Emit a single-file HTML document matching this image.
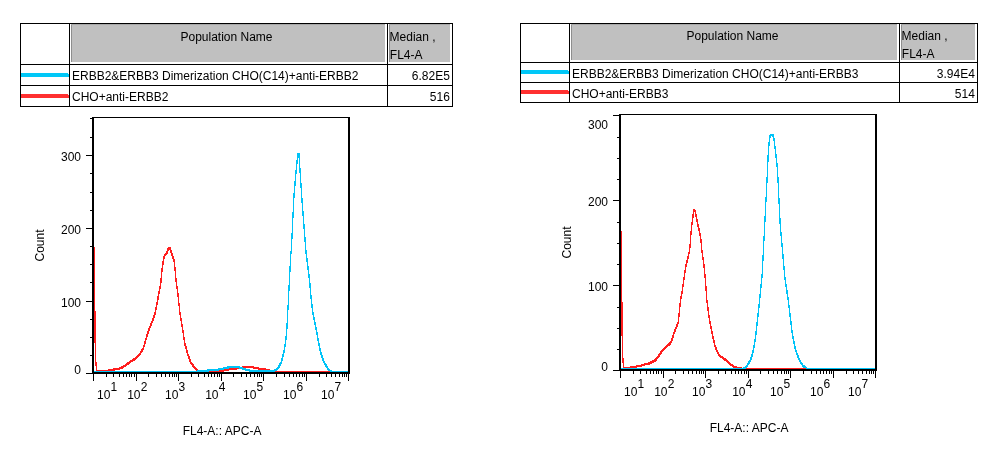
<!DOCTYPE html>
<html><head><meta charset="utf-8"><title>FL4-A histograms</title>
<style>
html,body{margin:0;padding:0;background:#fff;}
body{width:988px;height:456px;overflow:hidden;}
svg{display:block;will-change:transform;}
text{font-family:"Liberation Sans",sans-serif;font-size:12px;fill:#000;}
</style></head><body>
<svg width="988" height="456" viewBox="0 0 988 456">
<rect width="988" height="456" fill="#fff"/>
<g shape-rendering="crispEdges">
<rect x="71" y="24" width="314" height="38" fill="#c0c0c0"/>
<rect x="389" y="24" width="61" height="38" fill="#c0c0c0"/>
<rect x="71" y="24" width="1" height="38" fill="#8e8e8e"/>
<rect x="71" y="24" width="314" height="1" fill="#a8a8a8"/>
<rect x="389" y="24" width="1" height="38" fill="#8e8e8e"/>
<rect x="389" y="24" width="61" height="1" fill="#a8a8a8"/>
<rect x="20" y="23" width="433" height="1" fill="#000"/>
<rect x="20" y="64" width="433" height="1" fill="#000"/>
<rect x="20" y="85" width="433" height="1" fill="#000"/>
<rect x="20" y="106" width="433" height="1" fill="#000"/>
<rect x="20" y="23" width="1" height="84" fill="#000"/>
<rect x="69" y="23" width="1" height="84" fill="#000"/>
<rect x="387" y="23" width="1" height="84" fill="#000"/>
<rect x="452" y="23" width="1" height="84" fill="#000"/>
<rect x="21" y="73" width="48" height="4" fill="#00c8f8"/>
<rect x="21" y="94" width="48" height="4" fill="#ff3030"/>
<rect x="68" y="73" width="1" height="1" fill="#fff"/>
<rect x="68" y="94" width="1" height="1" fill="#fff"/>
<text x="226.5" y="40.8" text-anchor="middle">Population Name</text>
<text x="389.6" y="40.8">Median ,</text>
<text x="389.8" y="58.7">FL4-A</text>
<text x="72" y="79.8">ERBB2&amp;ERBB3 Dimerization CHO(C14)+anti-ERBB2</text>
<text x="72" y="100.8">CHO+anti-ERBB2</text>
<text x="449.9" y="79.8" text-anchor="end">6.82E5</text>
<text x="449.9" y="100.8" text-anchor="end">516</text>
<rect x="571" y="24" width="326" height="36" fill="#c0c0c0"/>
<rect x="901" y="24" width="74" height="36" fill="#c0c0c0"/>
<rect x="571" y="24" width="1" height="36" fill="#8e8e8e"/>
<rect x="571" y="24" width="326" height="1" fill="#a8a8a8"/>
<rect x="901" y="24" width="1" height="36" fill="#8e8e8e"/>
<rect x="901" y="24" width="74" height="1" fill="#a8a8a8"/>
<rect x="520" y="23" width="458" height="1" fill="#000"/>
<rect x="520" y="62" width="458" height="1" fill="#000"/>
<rect x="520" y="82" width="458" height="1" fill="#000"/>
<rect x="520" y="102" width="458" height="1" fill="#000"/>
<rect x="520" y="23" width="1" height="80" fill="#000"/>
<rect x="569" y="23" width="1" height="80" fill="#000"/>
<rect x="899" y="23" width="1" height="80" fill="#000"/>
<rect x="977" y="23" width="1" height="80" fill="#000"/>
<rect x="521" y="70" width="48" height="4" fill="#00c8f8"/>
<rect x="521" y="90" width="48" height="4" fill="#ff3030"/>
<rect x="568" y="70" width="1" height="1" fill="#fff"/>
<rect x="568" y="90" width="1" height="1" fill="#fff"/>
<text x="732.5" y="40.0" text-anchor="middle">Population Name</text>
<text x="901.6" y="40.0">Median ,</text>
<text x="901.8" y="57.8">FL4-A</text>
<text x="572" y="77.5">ERBB2&amp;ERBB3 Dimerization CHO(C14)+anti-ERBB3</text>
<text x="572" y="97.8">CHO+anti-ERBB3</text>
<text x="974.9" y="77.5" text-anchor="end">3.94E4</text>
<text x="974.9" y="97.8" text-anchor="end">514</text>
</g>
<path fill="#ff1e1e" shape-rendering="crispEdges" d="M96 370h1v2h-1zM97 370h1v2h-1zM98 370h1v2h-1zM99 370h1v2h-1zM100 370h1v2h-1zM101 370h1v2h-1zM102 370h1v2h-1zM103 370h1v2h-1zM104 370h1v2h-1zM105 370h1v2h-1zM106 370h1v2h-1zM107 370h1v2h-1zM108 369h1v3h-1zM109 369h1v2h-1zM110 369h1v2h-1zM111 369h1v2h-1zM112 369h1v2h-1zM113 368h1v3h-1zM114 368h1v3h-1zM115 368h1v2h-1zM116 368h1v2h-1zM117 368h1v2h-1zM118 368h1v2h-1zM119 367h1v3h-1zM120 367h1v2h-1zM121 366h1v3h-1zM122 366h1v3h-1zM123 365h1v3h-1zM124 365h1v2h-1zM125 364h1v3h-1zM126 363h1v3h-1zM127 362h1v3h-1zM128 362h1v3h-1zM129 361h1v3h-1zM130 360h1v3h-1zM131 360h1v2h-1zM132 359h1v3h-1zM133 358h1v3h-1zM134 358h1v3h-1zM135 357h1v3h-1zM136 356h1v3h-1zM137 355h1v3h-1zM138 354h1v3h-1zM139 353h1v3h-1zM140 351h1v4h-1zM141 349h1v4h-1zM142 348h1v4h-1zM143 345h1v5h-1zM144 341h1v6h-1zM145 338h1v6h-1zM146 334h1v6h-1zM147 331h1v6h-1zM148 328h1v6h-1zM149 326h1v5h-1zM150 323h1v5h-1zM151 321h1v5h-1zM152 318h1v5h-1zM153 315h1v6h-1zM154 312h1v6h-1zM155 307h1v8h-1zM156 302h1v8h-1zM157 296h1v9h-1zM158 291h1v9h-1zM159 286h1v8h-1zM160 278h1v11h-1zM161 268h1v15h-1zM162 261h1v11h-1zM163 256h1v9h-1zM164 254h1v5h-1zM165 253h1v3h-1zM166 251h1v4h-1zM167 248h1v6h-1zM168 247h1v4h-1zM169 247h1v3h-1zM170 247h1v6h-1zM171 250h1v6h-1zM172 253h1v6h-1zM173 256h1v6h-1zM174 259h1v12h-1zM175 267h1v15h-1zM176 278h1v11h-1zM177 286h1v11h-1zM178 293h1v13h-1zM179 303h1v12h-1zM180 312h1v9h-1zM181 318h1v9h-1zM182 324h1v9h-1zM183 330h1v10h-1zM184 337h1v9h-1zM185 343h1v6h-1zM186 346h1v7h-1zM187 350h1v6h-1zM188 354h1v5h-1zM189 356h1v6h-1zM190 359h1v5h-1zM191 362h1v3h-1zM192 363h1v4h-1zM193 364h1v4h-1zM194 366h1v3h-1zM195 367h1v3h-1zM196 368h1v3h-1zM197 369h1v3h-1zM198 370h1v2h-1zM199 370h1v2h-1zM200 370h1v3h-1zM201 371h1v2h-1zM202 371h1v2h-1zM203 371h1v2h-1zM204 371h1v2h-1zM205 371h1v2h-1zM206 371h1v2h-1zM207 371h1v2h-1zM208 371h1v2h-1zM209 371h1v2h-1zM210 371h1v2h-1zM211 371h1v2h-1zM212 370h1v3h-1zM213 370h1v3h-1zM214 370h1v2h-1zM215 370h1v2h-1zM216 370h1v2h-1zM217 370h1v2h-1zM218 370h1v2h-1zM219 370h1v2h-1zM220 370h1v2h-1zM221 370h1v2h-1zM222 369h1v3h-1zM223 369h1v3h-1zM224 369h1v2h-1zM225 369h1v2h-1zM226 369h1v2h-1zM227 369h1v2h-1zM228 368h1v3h-1zM229 368h1v2h-1zM230 368h1v2h-1zM231 368h1v2h-1zM232 368h1v2h-1zM233 368h1v2h-1zM234 368h1v2h-1zM235 367h1v3h-1zM236 367h1v3h-1zM237 367h1v2h-1zM238 367h1v2h-1zM239 367h1v2h-1zM240 367h1v2h-1zM241 367h1v2h-1zM242 366h1v3h-1zM243 366h1v2h-1zM244 366h1v2h-1zM245 366h1v2h-1zM246 366h1v2h-1zM247 366h1v2h-1zM248 366h1v2h-1zM249 366h1v2h-1zM250 366h1v2h-1zM251 366h1v2h-1zM252 366h1v2h-1zM253 366h1v3h-1zM254 367h1v2h-1zM255 367h1v2h-1zM256 367h1v2h-1zM257 367h1v2h-1zM258 367h1v3h-1zM259 368h1v2h-1zM260 368h1v2h-1zM261 368h1v2h-1zM262 368h1v2h-1zM263 368h1v2h-1zM264 368h1v2h-1zM265 368h1v3h-1zM266 369h1v2h-1zM267 369h1v2h-1zM268 369h1v2h-1zM269 369h1v3h-1zM270 370h1v2h-1zM271 370h1v2h-1zM272 370h1v3h-1zM273 370h1v3h-1zM274 371h1v2h-1zM275 371h1v2h-1zM276 371h1v2h-1zM277 371h1v2h-1zM278 371h1v2h-1zM279 371h1v2h-1zM280 371h1v2h-1zM281 371h1v2h-1zM282 371h1v2h-1zM283 371h1v2h-1zM284 371h1v2h-1zM285 371h1v2h-1zM286 371h1v2h-1zM287 371h1v2h-1zM288 371h1v2h-1zM289 371h1v2h-1zM290 371h1v2h-1zM291 371h1v2h-1zM292 371h1v2h-1zM293 371h1v2h-1zM294 371h1v2h-1zM295 371h1v2h-1zM296 371h1v2h-1zM297 371h1v2h-1zM298 371h1v2h-1zM299 371h1v2h-1zM300 371h1v2h-1zM301 371h1v2h-1zM302 371h1v2h-1zM303 371h1v2h-1zM304 371h1v2h-1zM305 371h1v2h-1zM306 371h1v2h-1zM307 371h1v2h-1zM308 371h1v2h-1zM309 371h1v2h-1zM310 371h1v2h-1zM311 371h1v2h-1zM312 371h1v2h-1zM313 371h1v2h-1zM314 371h1v2h-1zM315 371h1v2h-1zM316 371h1v2h-1zM317 371h1v2h-1zM318 371h1v2h-1zM319 371h1v2h-1zM320 371h1v2h-1zM321 371h1v2h-1zM322 371h1v2h-1zM323 371h1v2h-1zM324 371h1v2h-1zM325 371h1v2h-1zM326 371h1v2h-1zM327 371h1v2h-1zM328 371h1v2h-1zM329 371h1v2h-1zM330 371h1v2h-1zM331 371h1v2h-1zM332 371h1v2h-1zM333 371h1v2h-1zM334 371h1v2h-1zM335 371h1v2h-1zM336 371h1v2h-1zM337 371h1v2h-1zM338 371h1v2h-1zM339 371h1v2h-1zM340 371h1v2h-1zM341 371h1v2h-1zM342 371h1v2h-1zM343 371h1v2h-1zM344 371h1v2h-1zM345 371h1v2h-1zM346 371h1v2h-1zM347 371h1v2h-1z"/>
<path fill="#00c3f7" shape-rendering="crispEdges" d="M94 371h1v2h-1zM95 371h1v2h-1zM96 371h1v2h-1zM97 371h1v2h-1zM98 371h1v2h-1zM99 371h1v2h-1zM100 371h1v2h-1zM101 371h1v2h-1zM102 371h1v2h-1zM103 371h1v2h-1zM104 371h1v2h-1zM105 371h1v2h-1zM106 371h1v2h-1zM107 371h1v2h-1zM108 371h1v2h-1zM109 371h1v2h-1zM110 371h1v2h-1zM111 371h1v2h-1zM112 371h1v2h-1zM113 371h1v2h-1zM114 371h1v2h-1zM115 371h1v2h-1zM116 371h1v2h-1zM117 371h1v2h-1zM118 371h1v2h-1zM119 371h1v2h-1zM120 371h1v2h-1zM121 371h1v2h-1zM122 371h1v2h-1zM123 371h1v2h-1zM124 371h1v2h-1zM125 371h1v2h-1zM126 371h1v2h-1zM127 371h1v2h-1zM128 371h1v2h-1zM129 371h1v2h-1zM130 371h1v2h-1zM131 371h1v2h-1zM132 371h1v2h-1zM133 371h1v2h-1zM134 371h1v2h-1zM135 371h1v2h-1zM136 371h1v2h-1zM137 371h1v2h-1zM138 371h1v2h-1zM139 371h1v2h-1zM140 371h1v2h-1zM141 371h1v2h-1zM142 371h1v2h-1zM143 371h1v2h-1zM144 371h1v2h-1zM145 371h1v2h-1zM146 371h1v2h-1zM147 371h1v2h-1zM148 371h1v2h-1zM149 371h1v2h-1zM150 371h1v2h-1zM151 371h1v2h-1zM152 371h1v2h-1zM153 371h1v2h-1zM154 371h1v2h-1zM155 371h1v2h-1zM156 371h1v2h-1zM157 371h1v2h-1zM158 371h1v2h-1zM159 371h1v2h-1zM160 371h1v2h-1zM161 371h1v2h-1zM162 371h1v2h-1zM163 371h1v2h-1zM164 371h1v2h-1zM165 371h1v2h-1zM166 371h1v2h-1zM167 371h1v2h-1zM168 371h1v2h-1zM169 371h1v2h-1zM170 371h1v2h-1zM171 371h1v2h-1zM172 371h1v2h-1zM173 371h1v2h-1zM174 371h1v2h-1zM175 371h1v2h-1zM176 371h1v2h-1zM177 371h1v2h-1zM178 371h1v2h-1zM179 371h1v2h-1zM180 371h1v2h-1zM181 371h1v2h-1zM182 371h1v2h-1zM183 371h1v2h-1zM184 371h1v2h-1zM185 371h1v2h-1zM186 371h1v2h-1zM187 371h1v2h-1zM188 371h1v2h-1zM189 371h1v2h-1zM190 371h1v2h-1zM191 371h1v2h-1zM192 371h1v2h-1zM193 371h1v2h-1zM194 371h1v2h-1zM195 371h1v2h-1zM196 371h1v2h-1zM197 370h1v3h-1zM198 370h1v2h-1zM199 370h1v2h-1zM200 370h1v2h-1zM201 370h1v2h-1zM202 370h1v2h-1zM203 370h1v2h-1zM204 370h1v2h-1zM205 370h1v2h-1zM206 370h1v2h-1zM207 369h1v3h-1zM208 369h1v3h-1zM209 369h1v2h-1zM210 369h1v2h-1zM211 369h1v2h-1zM212 369h1v2h-1zM213 369h1v2h-1zM214 369h1v2h-1zM215 369h1v2h-1zM216 369h1v2h-1zM217 369h1v2h-1zM218 368h1v3h-1zM219 368h1v2h-1zM220 368h1v2h-1zM221 368h1v2h-1zM222 368h1v2h-1zM223 367h1v3h-1zM224 367h1v2h-1zM225 367h1v2h-1zM226 367h1v2h-1zM227 366h1v3h-1zM228 366h1v3h-1zM229 366h1v2h-1zM230 366h1v2h-1zM231 366h1v2h-1zM232 366h1v2h-1zM233 366h1v2h-1zM234 366h1v2h-1zM235 366h1v2h-1zM236 366h1v2h-1zM237 366h1v2h-1zM238 366h1v2h-1zM239 366h1v3h-1zM240 367h1v2h-1zM241 367h1v2h-1zM242 367h1v3h-1zM243 368h1v2h-1zM244 368h1v2h-1zM245 368h1v3h-1zM246 369h1v2h-1zM247 369h1v2h-1zM248 369h1v2h-1zM249 369h1v3h-1zM250 370h1v2h-1zM251 370h1v2h-1zM252 370h1v2h-1zM253 370h1v2h-1zM254 370h1v2h-1zM255 370h1v2h-1zM256 370h1v2h-1zM257 370h1v2h-1zM258 370h1v2h-1zM259 370h1v2h-1zM260 370h1v2h-1zM261 370h1v2h-1zM262 370h1v2h-1zM263 370h1v2h-1zM264 370h1v2h-1zM265 370h1v2h-1zM266 370h1v2h-1zM267 370h1v2h-1zM268 370h1v2h-1zM269 370h1v2h-1zM270 370h1v2h-1zM271 370h1v2h-1zM272 370h1v2h-1zM273 370h1v2h-1zM274 369h1v3h-1zM275 369h1v2h-1zM276 368h1v3h-1zM277 367h1v3h-1zM278 365h1v4h-1zM279 363h1v5h-1zM280 362h1v4h-1zM281 358h1v6h-1zM282 354h1v7h-1zM283 350h1v7h-1zM284 344h1v9h-1zM285 336h1v11h-1zM286 323h1v17h-1zM287 305h1v24h-1zM288 285h1v25h-1zM289 266h1v25h-1zM290 251h1v21h-1zM291 233h1v21h-1zM292 212h1v27h-1zM293 193h1v25h-1zM294 181h1v17h-1zM295 170h1v16h-1zM296 160h1v14h-1zM297 153h1v11h-1zM298 153h1v5h-1zM299 153h1v20h-1zM300 168h1v20h-1zM301 183h1v20h-1zM302 198h1v18h-1zM303 211h1v18h-1zM304 224h1v18h-1zM305 237h1v17h-1zM306 250h1v12h-1zM307 258h1v12h-1zM308 266h1v12h-1zM309 274h1v14h-1zM310 283h1v16h-1zM311 295h1v13h-1zM312 304h1v11h-1zM313 312h1v8h-1zM314 317h1v8h-1zM315 322h1v8h-1zM316 327h1v8h-1zM317 332h1v9h-1zM318 338h1v8h-1zM319 343h1v8h-1zM320 348h1v7h-1zM321 352h1v6h-1zM322 355h1v6h-1zM323 358h1v5h-1zM324 361h1v4h-1zM325 363h1v4h-1zM326 364h1v4h-1zM327 366h1v4h-1zM328 368h1v3h-1zM329 369h1v3h-1zM330 370h1v2h-1zM331 370h1v3h-1zM332 371h1v2h-1zM333 371h1v2h-1zM334 371h1v2h-1zM335 371h1v2h-1zM336 371h1v2h-1zM337 371h1v2h-1zM338 371h1v2h-1zM339 371h1v2h-1zM340 371h1v2h-1zM341 371h1v2h-1zM342 371h1v2h-1zM343 371h1v2h-1zM344 371h1v2h-1zM345 371h1v2h-1zM346 371h1v2h-1zM347 371h1v2h-1z"/>
<g fill="#ff1e1e" shape-rendering="crispEdges"><rect x="94" y="247" width="1" height="96"/><rect x="95" y="311" width="1" height="55"/><rect x="96" y="362" width="1" height="9"/></g><rect x="278" y="371" width="52" height="1" fill="#ff1e1e" shape-rendering="crispEdges"/>
<g shape-rendering="crispEdges" fill="#000">
<rect x="92" y="117" width="258" height="1"/>
<rect x="92" y="117" width="2" height="257"/>
<rect x="348" y="117" width="2" height="257"/>
<rect x="92" y="372" width="258" height="2"/>
<rect x="86" y="373" width="6" height="1"/>
<rect x="86" y="301" width="6" height="1"/>
<rect x="86" y="228" width="6" height="1"/>
<rect x="86" y="155" width="6" height="1"/>
<rect x="90" y="355" width="2" height="1"/>
<rect x="90" y="337" width="2" height="1"/>
<rect x="90" y="319" width="2" height="1"/>
<rect x="90" y="282" width="2" height="1"/>
<rect x="90" y="264" width="2" height="1"/>
<rect x="90" y="246" width="2" height="1"/>
<rect x="90" y="210" width="2" height="1"/>
<rect x="90" y="192" width="2" height="1"/>
<rect x="90" y="173" width="2" height="1"/>
<rect x="90" y="137" width="2" height="1"/>
<rect x="90" y="118" width="2" height="1"/>
<rect x="93" y="374" width="1" height="7"/>
<rect x="106" y="374" width="1" height="3"/>
<rect x="113" y="374" width="1" height="3"/>
<rect x="119" y="374" width="1" height="3"/>
<rect x="123" y="374" width="1" height="3"/>
<rect x="126" y="374" width="1" height="3"/>
<rect x="129" y="374" width="1" height="3"/>
<rect x="131" y="374" width="1" height="3"/>
<rect x="134" y="374" width="1" height="3"/>
<rect x="136" y="374" width="1" height="7"/>
<rect x="148" y="374" width="1" height="3"/>
<rect x="156" y="374" width="1" height="3"/>
<rect x="161" y="374" width="1" height="3"/>
<rect x="165" y="374" width="1" height="3"/>
<rect x="169" y="374" width="1" height="3"/>
<rect x="172" y="374" width="1" height="3"/>
<rect x="174" y="374" width="1" height="3"/>
<rect x="176" y="374" width="1" height="3"/>
<rect x="178" y="374" width="1" height="7"/>
<rect x="191" y="374" width="1" height="3"/>
<rect x="198" y="374" width="1" height="3"/>
<rect x="204" y="374" width="1" height="3"/>
<rect x="208" y="374" width="1" height="3"/>
<rect x="211" y="374" width="1" height="3"/>
<rect x="214" y="374" width="1" height="3"/>
<rect x="217" y="374" width="1" height="3"/>
<rect x="219" y="374" width="1" height="3"/>
<rect x="221" y="374" width="1" height="7"/>
<rect x="233" y="374" width="1" height="3"/>
<rect x="241" y="374" width="1" height="3"/>
<rect x="246" y="374" width="1" height="3"/>
<rect x="250" y="374" width="1" height="3"/>
<rect x="254" y="374" width="1" height="3"/>
<rect x="257" y="374" width="1" height="3"/>
<rect x="259" y="374" width="1" height="3"/>
<rect x="261" y="374" width="1" height="3"/>
<rect x="263" y="374" width="1" height="7"/>
<rect x="276" y="374" width="1" height="3"/>
<rect x="284" y="374" width="1" height="3"/>
<rect x="289" y="374" width="1" height="3"/>
<rect x="293" y="374" width="1" height="3"/>
<rect x="296" y="374" width="1" height="3"/>
<rect x="299" y="374" width="1" height="3"/>
<rect x="302" y="374" width="1" height="3"/>
<rect x="304" y="374" width="1" height="3"/>
<rect x="306" y="374" width="1" height="7"/>
<rect x="319" y="374" width="1" height="3"/>
<rect x="326" y="374" width="1" height="3"/>
<rect x="331" y="374" width="1" height="3"/>
<rect x="335" y="374" width="1" height="3"/>
<rect x="339" y="374" width="1" height="3"/>
<rect x="342" y="374" width="1" height="3"/>
<rect x="344" y="374" width="1" height="3"/>
<rect x="346" y="374" width="1" height="3"/>
<rect x="348" y="374" width="1" height="7"/>
</g>
<text x="81" y="161.0" text-anchor="end">300</text>
<text x="81" y="234.2" text-anchor="end">200</text>
<text x="81" y="307.0" text-anchor="end">100</text>
<text x="81" y="374.4" text-anchor="end">0</text>
<text x="97.0" y="399.4">10</text>
<text x="110.6" y="390.8">1</text>
<text x="127.2" y="399.4">10</text>
<text x="140.8" y="390.8">2</text>
<text x="165.0" y="399.4">10</text>
<text x="178.6" y="390.8">3</text>
<text x="205.2" y="399.4">10</text>
<text x="218.8" y="390.8">4</text>
<text x="243.0" y="399.4">10</text>
<text x="256.6" y="390.8">5</text>
<text x="283.0" y="399.4">10</text>
<text x="296.6" y="390.8">6</text>
<text x="321.0" y="399.4">10</text>
<text x="334.6" y="390.8">7</text>
<text x="182.7" y="434.9">FL4-A:: APC-A</text>
<text transform="translate(43.8,245.5) rotate(-90)" text-anchor="middle">Count</text>
<path fill="#ff1e1e" shape-rendering="crispEdges" d="M623 367h1v2h-1zM624 367h1v2h-1zM625 367h1v2h-1zM626 367h1v2h-1zM627 367h1v2h-1zM628 367h1v2h-1zM629 367h1v2h-1zM630 366h1v3h-1zM631 366h1v2h-1zM632 366h1v2h-1zM633 366h1v2h-1zM634 366h1v2h-1zM635 366h1v2h-1zM636 365h1v3h-1zM637 365h1v2h-1zM638 365h1v2h-1zM639 365h1v2h-1zM640 365h1v2h-1zM641 364h1v3h-1zM642 364h1v2h-1zM643 364h1v2h-1zM644 363h1v3h-1zM645 363h1v2h-1zM646 363h1v2h-1zM647 363h1v2h-1zM648 362h1v3h-1zM649 362h1v3h-1zM650 361h1v3h-1zM651 361h1v3h-1zM652 360h1v3h-1zM653 360h1v3h-1zM654 359h1v3h-1zM655 358h1v4h-1zM656 357h1v4h-1zM657 356h1v3h-1zM658 354h1v4h-1zM659 353h1v4h-1zM660 351h1v4h-1zM661 350h1v4h-1zM662 349h1v3h-1zM663 348h1v3h-1zM664 347h1v3h-1zM665 346h1v3h-1zM666 345h1v3h-1zM667 344h1v3h-1zM668 343h1v3h-1zM669 342h1v4h-1zM670 341h1v4h-1zM671 338h1v5h-1zM672 335h1v6h-1zM673 332h1v6h-1zM674 329h1v5h-1zM675 327h1v5h-1zM676 324h1v5h-1zM677 322h1v5h-1zM678 313h1v11h-1zM679 303h1v14h-1zM680 296h1v11h-1zM681 291h1v8h-1zM682 284h1v10h-1zM683 277h1v10h-1zM684 270h1v10h-1zM685 264h1v9h-1zM686 260h1v7h-1zM687 256h1v7h-1zM688 252h1v7h-1zM689 244h1v10h-1zM690 231h1v17h-1zM691 222h1v13h-1zM692 214h1v11h-1zM693 209h1v9h-1zM694 209h1v3h-1zM695 210h1v7h-1zM696 214h1v8h-1zM697 219h1v8h-1zM698 224h1v7h-1zM699 228h1v8h-1zM700 233h1v10h-1zM701 239h1v14h-1zM702 250h1v10h-1zM703 257h1v11h-1zM704 264h1v14h-1zM705 274h1v17h-1zM706 286h1v17h-1zM707 300h1v11h-1zM708 307h1v11h-1zM709 315h1v9h-1zM710 321h1v8h-1zM711 326h1v8h-1zM712 331h1v8h-1zM713 336h1v7h-1zM714 340h1v7h-1zM715 345h1v5h-1zM716 347h1v5h-1zM717 350h1v4h-1zM718 352h1v4h-1zM719 354h1v3h-1zM720 355h1v3h-1zM721 356h1v2h-1zM722 356h1v3h-1zM723 357h1v3h-1zM724 358h1v3h-1zM725 358h1v3h-1zM726 359h1v3h-1zM727 360h1v3h-1zM728 361h1v3h-1zM729 362h1v3h-1zM730 363h1v3h-1zM731 364h1v2h-1zM732 364h1v3h-1zM733 365h1v3h-1zM734 366h1v2h-1zM735 366h1v2h-1zM736 366h1v3h-1zM737 367h1v2h-1zM738 367h1v2h-1zM739 367h1v2h-1zM740 367h1v2h-1zM741 367h1v3h-1zM742 368h1v2h-1zM743 368h1v2h-1zM744 368h1v2h-1zM745 368h1v2h-1zM746 368h1v2h-1zM747 368h1v2h-1zM748 368h1v2h-1zM749 368h1v2h-1zM750 368h1v2h-1zM751 368h1v2h-1zM752 368h1v2h-1zM753 368h1v2h-1zM754 368h1v2h-1zM755 368h1v2h-1zM756 368h1v2h-1zM757 368h1v2h-1zM758 368h1v2h-1zM759 368h1v2h-1zM760 368h1v2h-1zM761 368h1v2h-1zM762 368h1v2h-1zM763 368h1v2h-1zM764 368h1v2h-1zM765 368h1v2h-1zM766 368h1v2h-1zM767 368h1v2h-1zM768 368h1v2h-1zM769 368h1v2h-1zM770 368h1v2h-1zM771 368h1v2h-1zM772 368h1v2h-1zM773 368h1v2h-1zM774 368h1v2h-1zM775 368h1v2h-1zM776 368h1v2h-1zM777 368h1v2h-1zM778 368h1v2h-1zM779 368h1v2h-1zM780 368h1v2h-1zM781 368h1v2h-1zM782 368h1v2h-1zM783 368h1v2h-1zM784 368h1v2h-1zM785 368h1v2h-1zM786 368h1v2h-1zM787 368h1v2h-1zM788 368h1v2h-1zM789 368h1v2h-1zM790 368h1v2h-1zM791 368h1v2h-1zM792 368h1v2h-1zM793 368h1v2h-1zM794 368h1v2h-1zM795 368h1v2h-1zM796 368h1v2h-1zM797 368h1v2h-1zM798 368h1v2h-1zM799 368h1v2h-1zM800 368h1v2h-1zM801 368h1v2h-1zM802 368h1v2h-1zM803 368h1v2h-1zM804 368h1v2h-1zM805 368h1v2h-1zM806 368h1v2h-1zM807 368h1v2h-1zM808 368h1v2h-1zM809 368h1v2h-1zM810 368h1v2h-1zM811 368h1v2h-1zM812 368h1v2h-1zM813 368h1v2h-1zM814 368h1v2h-1zM815 368h1v2h-1zM816 368h1v2h-1zM817 368h1v2h-1zM818 368h1v2h-1zM819 368h1v2h-1zM820 368h1v2h-1zM821 368h1v2h-1zM822 368h1v2h-1zM823 368h1v2h-1zM824 368h1v2h-1zM825 368h1v2h-1zM826 368h1v2h-1zM827 368h1v2h-1zM828 368h1v2h-1zM829 368h1v2h-1zM830 368h1v2h-1zM831 368h1v2h-1zM832 368h1v2h-1zM833 368h1v2h-1zM834 368h1v2h-1zM835 368h1v2h-1zM836 368h1v2h-1zM837 368h1v2h-1zM838 368h1v2h-1zM839 368h1v2h-1zM840 368h1v2h-1zM841 368h1v2h-1zM842 368h1v2h-1zM843 368h1v2h-1zM844 368h1v2h-1zM845 368h1v2h-1zM846 368h1v2h-1zM847 368h1v2h-1zM848 368h1v2h-1zM849 368h1v2h-1zM850 368h1v2h-1zM851 368h1v2h-1zM852 368h1v2h-1zM853 368h1v2h-1zM854 368h1v2h-1zM855 368h1v2h-1zM856 368h1v2h-1zM857 368h1v2h-1zM858 368h1v2h-1zM859 368h1v2h-1zM860 368h1v2h-1zM861 368h1v2h-1zM862 368h1v2h-1zM863 368h1v2h-1zM864 368h1v2h-1zM865 368h1v2h-1zM866 368h1v2h-1zM867 368h1v2h-1zM868 368h1v2h-1zM869 368h1v2h-1zM870 368h1v2h-1zM871 368h1v2h-1zM872 368h1v2h-1zM873 368h1v2h-1zM874 368h1v2h-1z"/>
<path fill="#00c3f7" shape-rendering="crispEdges" d="M621 368h1v2h-1zM622 368h1v2h-1zM623 368h1v2h-1zM624 368h1v2h-1zM625 368h1v2h-1zM626 368h1v2h-1zM627 368h1v2h-1zM628 368h1v2h-1zM629 368h1v2h-1zM630 368h1v2h-1zM631 368h1v2h-1zM632 368h1v2h-1zM633 368h1v2h-1zM634 368h1v2h-1zM635 368h1v2h-1zM636 368h1v2h-1zM637 368h1v2h-1zM638 368h1v2h-1zM639 368h1v2h-1zM640 368h1v2h-1zM641 368h1v2h-1zM642 368h1v2h-1zM643 368h1v2h-1zM644 368h1v2h-1zM645 368h1v2h-1zM646 368h1v2h-1zM647 368h1v2h-1zM648 368h1v2h-1zM649 368h1v2h-1zM650 368h1v2h-1zM651 368h1v2h-1zM652 368h1v2h-1zM653 368h1v2h-1zM654 368h1v2h-1zM655 368h1v2h-1zM656 368h1v2h-1zM657 368h1v2h-1zM658 368h1v2h-1zM659 368h1v2h-1zM660 368h1v2h-1zM661 368h1v2h-1zM662 368h1v2h-1zM663 368h1v2h-1zM664 368h1v2h-1zM665 368h1v2h-1zM666 368h1v2h-1zM667 368h1v2h-1zM668 368h1v2h-1zM669 368h1v2h-1zM670 368h1v2h-1zM671 368h1v2h-1zM672 368h1v2h-1zM673 368h1v2h-1zM674 368h1v2h-1zM675 368h1v2h-1zM676 368h1v2h-1zM677 368h1v2h-1zM678 368h1v2h-1zM679 368h1v2h-1zM680 368h1v2h-1zM681 368h1v2h-1zM682 368h1v2h-1zM683 368h1v2h-1zM684 368h1v2h-1zM685 368h1v2h-1zM686 368h1v2h-1zM687 368h1v2h-1zM688 368h1v2h-1zM689 368h1v2h-1zM690 368h1v2h-1zM691 368h1v2h-1zM692 368h1v2h-1zM693 368h1v2h-1zM694 368h1v2h-1zM695 368h1v2h-1zM696 368h1v2h-1zM697 368h1v2h-1zM698 368h1v2h-1zM699 368h1v2h-1zM700 368h1v2h-1zM701 368h1v2h-1zM702 368h1v2h-1zM703 368h1v2h-1zM704 368h1v2h-1zM705 368h1v2h-1zM706 368h1v2h-1zM707 368h1v2h-1zM708 368h1v2h-1zM709 368h1v2h-1zM710 368h1v2h-1zM711 368h1v2h-1zM712 368h1v2h-1zM713 368h1v2h-1zM714 368h1v2h-1zM715 368h1v2h-1zM716 368h1v2h-1zM717 368h1v2h-1zM718 368h1v2h-1zM719 368h1v2h-1zM720 368h1v2h-1zM721 368h1v2h-1zM722 368h1v2h-1zM723 368h1v2h-1zM724 368h1v2h-1zM725 368h1v2h-1zM726 368h1v2h-1zM727 368h1v2h-1zM728 368h1v2h-1zM729 368h1v2h-1zM730 368h1v2h-1zM731 368h1v2h-1zM732 368h1v2h-1zM733 368h1v2h-1zM734 368h1v2h-1zM735 368h1v2h-1zM736 368h1v2h-1zM737 368h1v2h-1zM738 368h1v2h-1zM739 368h1v2h-1zM740 368h1v2h-1zM741 368h1v2h-1zM742 368h1v2h-1zM743 367h1v3h-1zM744 367h1v3h-1zM745 366h1v3h-1zM746 365h1v3h-1zM747 363h1v4h-1zM748 361h1v4h-1zM749 360h1v4h-1zM750 357h1v5h-1zM751 354h1v6h-1zM752 350h1v7h-1zM753 345h1v8h-1zM754 339h1v9h-1zM755 331h1v11h-1zM756 322h1v13h-1zM757 313h1v13h-1zM758 304h1v13h-1zM759 294h1v14h-1zM760 284h1v14h-1zM761 274h1v14h-1zM762 255h1v23h-1zM763 236h1v25h-1zM764 216h1v25h-1zM765 197h1v25h-1zM766 177h1v25h-1zM767 155h1v28h-1zM768 142h1v20h-1zM769 135h1v11h-1zM770 134h1v4h-1zM771 134h1v2h-1zM772 134h1v3h-1zM773 134h1v7h-1zM774 138h1v11h-1zM775 146h1v12h-1zM776 154h1v13h-1zM777 163h1v20h-1zM778 177h1v27h-1zM779 198h1v26h-1zM780 218h1v18h-1zM781 232h1v15h-1zM782 243h1v16h-1zM783 254h1v16h-1zM784 266h1v14h-1zM785 277h1v10h-1zM786 284h1v10h-1zM787 290h1v10h-1zM788 297h1v11h-1zM789 305h1v12h-1zM790 313h1v12h-1zM791 321h1v12h-1zM792 330h1v9h-1zM793 336h1v8h-1zM794 341h1v8h-1zM795 346h1v6h-1zM796 350h1v5h-1zM797 353h1v5h-1zM798 355h1v5h-1zM799 358h1v4h-1zM800 360h1v4h-1zM801 362h1v3h-1zM802 363h1v4h-1zM803 365h1v3h-1zM804 365h1v3h-1zM805 366h1v3h-1zM806 367h1v3h-1zM807 368h1v2h-1zM808 368h1v2h-1zM809 368h1v2h-1zM810 368h1v2h-1zM811 368h1v2h-1zM812 368h1v2h-1zM813 368h1v2h-1zM814 368h1v2h-1zM815 368h1v2h-1zM816 368h1v2h-1zM817 368h1v2h-1zM818 368h1v2h-1zM819 368h1v2h-1zM820 368h1v2h-1zM821 368h1v2h-1zM822 368h1v2h-1zM823 368h1v2h-1zM824 368h1v2h-1zM825 368h1v2h-1zM826 368h1v2h-1zM827 368h1v2h-1zM828 368h1v2h-1zM829 368h1v2h-1zM830 368h1v2h-1zM831 368h1v2h-1zM832 368h1v2h-1zM833 368h1v2h-1zM834 368h1v2h-1zM835 368h1v2h-1zM836 368h1v2h-1zM837 368h1v2h-1zM838 368h1v2h-1zM839 368h1v2h-1zM840 368h1v2h-1zM841 368h1v2h-1zM842 368h1v2h-1zM843 368h1v2h-1zM844 368h1v2h-1zM845 368h1v2h-1zM846 368h1v2h-1zM847 368h1v2h-1zM848 368h1v2h-1zM849 368h1v2h-1zM850 368h1v2h-1zM851 368h1v2h-1zM852 368h1v2h-1zM853 368h1v2h-1zM854 368h1v2h-1zM855 368h1v2h-1zM856 368h1v2h-1zM857 368h1v2h-1zM858 368h1v2h-1zM859 368h1v2h-1zM860 368h1v2h-1zM861 368h1v2h-1zM862 368h1v2h-1zM863 368h1v2h-1zM864 368h1v2h-1zM865 368h1v2h-1zM866 368h1v2h-1zM867 368h1v2h-1zM868 368h1v2h-1zM869 368h1v2h-1zM870 368h1v2h-1zM871 368h1v2h-1zM872 368h1v2h-1zM873 368h1v2h-1zM874 368h1v2h-1z"/>
<g fill="#ff1e1e" shape-rendering="crispEdges"><rect x="621" y="231" width="1" height="105"/><rect x="622" y="302" width="1" height="61"/><rect x="623" y="358" width="1" height="10"/></g><rect x="746" y="368" width="60" height="1" fill="#ff1e1e" shape-rendering="crispEdges"/>
<g shape-rendering="crispEdges" fill="#000">
<rect x="619" y="114" width="258" height="1"/>
<rect x="619" y="114" width="2" height="257"/>
<rect x="875" y="114" width="2" height="257"/>
<rect x="619" y="369" width="258" height="2"/>
<rect x="613" y="370" width="6" height="1"/>
<rect x="613" y="285" width="6" height="1"/>
<rect x="613" y="200" width="6" height="1"/>
<rect x="613" y="115" width="6" height="1"/>
<rect x="617" y="349" width="2" height="1"/>
<rect x="617" y="328" width="2" height="1"/>
<rect x="617" y="307" width="2" height="1"/>
<rect x="617" y="264" width="2" height="1"/>
<rect x="617" y="243" width="2" height="1"/>
<rect x="617" y="222" width="2" height="1"/>
<rect x="617" y="179" width="2" height="1"/>
<rect x="617" y="158" width="2" height="1"/>
<rect x="617" y="137" width="2" height="1"/>
<rect x="620" y="371" width="1" height="7"/>
<rect x="633" y="371" width="1" height="3"/>
<rect x="640" y="371" width="1" height="3"/>
<rect x="646" y="371" width="1" height="3"/>
<rect x="650" y="371" width="1" height="3"/>
<rect x="653" y="371" width="1" height="3"/>
<rect x="656" y="371" width="1" height="3"/>
<rect x="658" y="371" width="1" height="3"/>
<rect x="661" y="371" width="1" height="3"/>
<rect x="663" y="371" width="1" height="7"/>
<rect x="675" y="371" width="1" height="3"/>
<rect x="683" y="371" width="1" height="3"/>
<rect x="688" y="371" width="1" height="3"/>
<rect x="692" y="371" width="1" height="3"/>
<rect x="696" y="371" width="1" height="3"/>
<rect x="699" y="371" width="1" height="3"/>
<rect x="701" y="371" width="1" height="3"/>
<rect x="703" y="371" width="1" height="3"/>
<rect x="705" y="371" width="1" height="7"/>
<rect x="718" y="371" width="1" height="3"/>
<rect x="725" y="371" width="1" height="3"/>
<rect x="731" y="371" width="1" height="3"/>
<rect x="735" y="371" width="1" height="3"/>
<rect x="738" y="371" width="1" height="3"/>
<rect x="741" y="371" width="1" height="3"/>
<rect x="744" y="371" width="1" height="3"/>
<rect x="746" y="371" width="1" height="3"/>
<rect x="748" y="371" width="1" height="7"/>
<rect x="760" y="371" width="1" height="3"/>
<rect x="768" y="371" width="1" height="3"/>
<rect x="773" y="371" width="1" height="3"/>
<rect x="777" y="371" width="1" height="3"/>
<rect x="781" y="371" width="1" height="3"/>
<rect x="784" y="371" width="1" height="3"/>
<rect x="786" y="371" width="1" height="3"/>
<rect x="788" y="371" width="1" height="3"/>
<rect x="790" y="371" width="1" height="7"/>
<rect x="803" y="371" width="1" height="3"/>
<rect x="811" y="371" width="1" height="3"/>
<rect x="816" y="371" width="1" height="3"/>
<rect x="820" y="371" width="1" height="3"/>
<rect x="823" y="371" width="1" height="3"/>
<rect x="826" y="371" width="1" height="3"/>
<rect x="829" y="371" width="1" height="3"/>
<rect x="831" y="371" width="1" height="3"/>
<rect x="833" y="371" width="1" height="7"/>
<rect x="846" y="371" width="1" height="3"/>
<rect x="853" y="371" width="1" height="3"/>
<rect x="858" y="371" width="1" height="3"/>
<rect x="862" y="371" width="1" height="3"/>
<rect x="866" y="371" width="1" height="3"/>
<rect x="869" y="371" width="1" height="3"/>
<rect x="871" y="371" width="1" height="3"/>
<rect x="873" y="371" width="1" height="3"/>
<rect x="875" y="371" width="1" height="7"/>
</g>
<text x="608" y="128.8" text-anchor="end">300</text>
<text x="608" y="206.0" text-anchor="end">200</text>
<text x="608" y="291.0" text-anchor="end">100</text>
<text x="608" y="371.4" text-anchor="end">0</text>
<text x="624.0" y="396.4">10</text>
<text x="637.6" y="387.8">1</text>
<text x="654.2" y="396.4">10</text>
<text x="667.8" y="387.8">2</text>
<text x="692.0" y="396.4">10</text>
<text x="705.6" y="387.8">3</text>
<text x="732.2" y="396.4">10</text>
<text x="745.8" y="387.8">4</text>
<text x="770.0" y="396.4">10</text>
<text x="783.6" y="387.8">5</text>
<text x="810.0" y="396.4">10</text>
<text x="823.6" y="387.8">6</text>
<text x="848.0" y="396.4">10</text>
<text x="861.6" y="387.8">7</text>
<text x="709.7" y="431.9">FL4-A:: APC-A</text>
<text transform="translate(570.8,242.5) rotate(-90)" text-anchor="middle">Count</text>
</svg>
</body></html>
